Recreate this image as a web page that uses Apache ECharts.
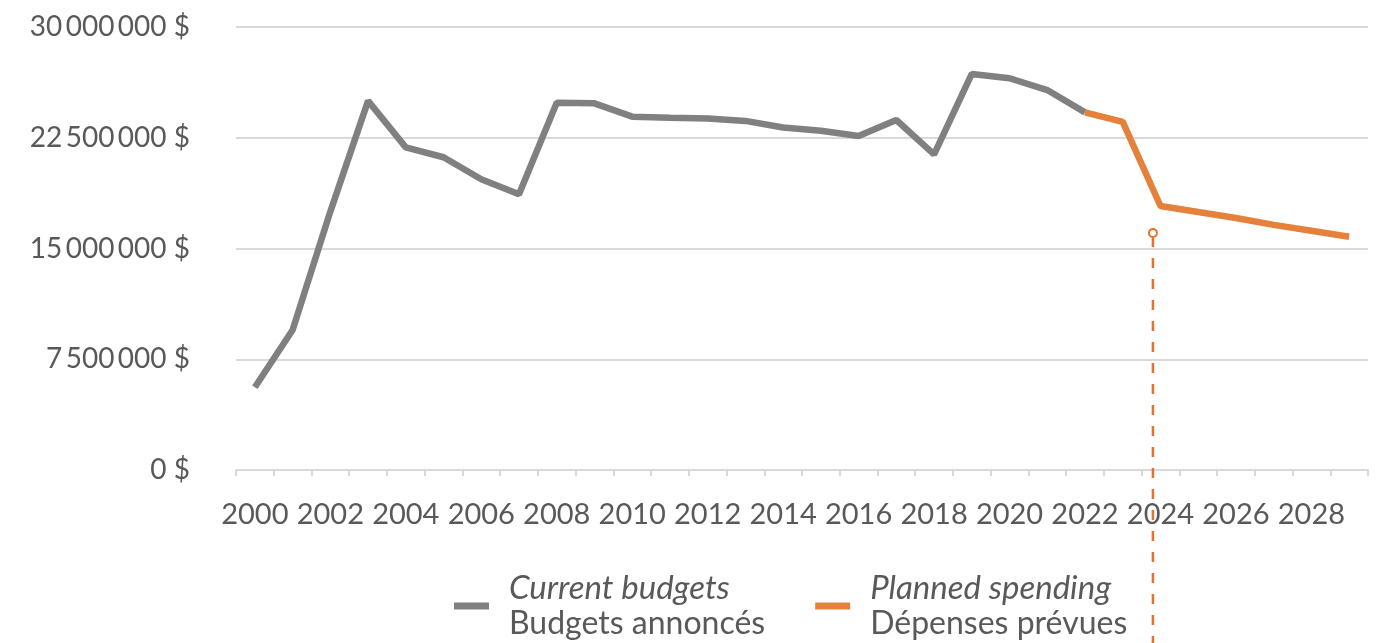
<!DOCTYPE html>
<html>
<head>
<meta charset="utf-8">
<script src="https://cdn.jsdelivr.net/npm/echarts@6/dist/echarts.min.js"></script>
<style>
html,body{margin:0;padding:0;background:#fff;}
#chart{width:1385px;height:643px;}
</style>
</head>
<body>
<div id="chart"></div>
<script>
const years = ['2000','2001','2002','2003','2004','2005','2006','2007','2008','2009','2010','2011','2012','2013','2014','2015','2016','2017','2018','2019','2020','2021','2022','2023','2024','2025','2026','2027','2028','2029'];
const currentBudgets = [5600000,9480000,17500000,25000000,21850000,21180000,19690000,18670000,24870000,24830000,23930000,23860000,23800000,23640000,23190000,22980000,22620000,23700000,21380000,26820000,26530000,25730000,24220000,null,null,null,null,null,null,null];
const plannedSpending = [null,null,null,null,null,null,null,null,null,null,null,null,null,null,null,null,null,null,null,null,null,null,24220000,23570000,17880000,17470000,17070000,16600000,16200000,15800000];
const yTicks = [0, 7500000, 15000000, 22500000, 30000000];
const legendItalic = ['Current budgets', 'Planned spending'];
const legendNormal = ['Budgets annoncés', 'Dépenses prévues'];
const seriesNames = ['current', 'planned'];
const markerYear = 2023.8;
const markerValue = 16050000;

const FONT = 'Lato';
const TXT = '#595959';
const GRAY = '#808080';
const ORANGE = '#E6813B';
const DASH = '#E8702A';

function fmt(v){
  return String(v).replace(/\B(?=(\d{3})+(?!\d))/g, '\u2009') + ' $';
}

const chart = echarts.init(document.getElementById('chart'));
chart.setOption({
  animation: false,
  grid: {left: 236, right: 17, top: 27, bottom: 173},
  xAxis: {
    type: 'category',
    data: years,
    boundaryGap: true,
    axisLine: {lineStyle: {color: '#d9d9d9', width: 2}},
    axisTick: {show: true, length: 6, interval: 0, lineStyle: {color: '#d9d9d9', width: 2}},
    axisLabel: {interval: 1, color: TXT, fontFamily: FONT, fontSize: 29, margin: 30}
  },
  yAxis: {
    type: 'value',
    min: 0, max: 30000000, interval: 7500000,
    axisLine: {show: false},
    axisTick: {show: false},
    splitLine: {lineStyle: {color: '#d9d9d9', width: 2}},
    axisLabel: {color: TXT, fontFamily: FONT, fontSize: 28, margin: 46,
      formatter: function(v){ return yTicks.indexOf(v) >= 0 ? fmt(v) : ''; }}
  },
  legend: {
    left: 449, top: 567,
    itemWidth: 35, itemHeight: 7, itemGap: 50,
    icon: 'rect',
    data: seriesNames,
    formatter: function(name){
      const i = seriesNames.indexOf(name);
      return '{it|' + legendItalic[i] + '}\n{n|' + legendNormal[i] + '}';
    },
    textStyle: {
      color: TXT, fontFamily: FONT,
      rich: {
        it: {fontStyle: 'italic', fontSize: 33, color: TXT, fontFamily: FONT, lineHeight: 35, padding: [0,0,0,15]},
        n: {fontSize: 32, color: TXT, fontFamily: FONT, lineHeight: 35, padding: [0,0,0,15]}
      }
    }
  },
  series: [
    {name: 'current', type: 'line', data: currentBudgets, showSymbol: false, symbol: 'none',
      lineStyle: {color: GRAY, width: 6.5}, itemStyle: {color: GRAY}},
    {name: 'planned', type: 'line', data: plannedSpending, showSymbol: false, symbol: 'none',
      lineStyle: {color: ORANGE, width: 6.5}, itemStyle: {color: ORANGE}}
  ]
});

const lo = String(Math.floor(markerYear)), hi = String(Math.ceil(markerYear));
const f = markerYear - Math.floor(markerYear);
const pLo = chart.convertToPixel({gridIndex: 0}, [lo, markerValue]);
const pHi = chart.convertToPixel({gridIndex: 0}, [hi, markerValue]);
const px = pLo[0] + (pHi[0] - pLo[0]) * f;
const py = pLo[1];
chart.setOption({
  graphic: [
    {type: 'line', shape: {x1: px, y1: py + 4, x2: px, y2: 643},
      style: {stroke: DASH, lineWidth: 2.5, lineDash: [10, 11]}, z: 10},
    {type: 'circle', shape: {cx: px, cy: py, r: 4},
      style: {fill: '#fff', stroke: DASH, lineWidth: 2}, z: 11}
  ]
});
</script>
</body>
</html>
